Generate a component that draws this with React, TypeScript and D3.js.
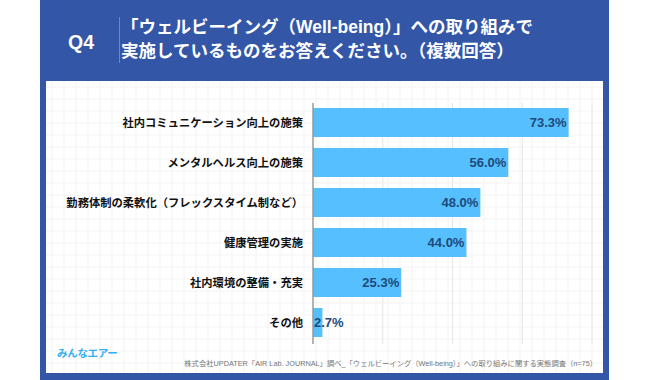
import React from "react";
import * as d3 from "d3";

const categories = [
  "社内コミュニケーション向上の施策",
  "メンタルヘルス向上の施策",
  "勤務体制の柔軟化（フレックスタイム制など）",
  "健康管理の実施",
  "社内環境の整備・充実",
  "その他",
];
const values = [73.3, 56.0, 48.0, 44.0, 25.3, 2.7];
const gridTicks = [20, 40, 60, 80];
const titleLines = [
  "「ウェルビーイング（Well-being）」への取り組みで",
  "実施しているものをお答えください。（複数回答）",
];
const questionLabel = "Q4";
const sourceText =
  "株式会社UPDATER「AIR Lab. JOURNAL」調べ_「ウェルビーイング（Well-being）」への取り組みに関する実態調査（n=75）";
const logoText = "みんなエアー";

const W = 650;
const H = 380;
const JP = "'Noto Sans CJK JP', sans-serif";
const LAT = "'Liberation Sans', 'Noto Sans CJK JP', sans-serif";

export default function App() {
  const x = d3.scaleLinear().domain([0, 80]).range([313, 592]);
  const y = d3
    .scaleBand<string>()
    .domain(categories)
    .range([102.5, 342.5])
    .paddingInner(0.275)
    .paddingOuter(0.1375);

  const box = { x0: 46, x1: 603, y0: 81, y1: 373 };
  const bgV = d3.range(box.x0 + 6, box.x1, 12);
  const bgH = d3.range(box.y0 + 6, box.y1, 12);

  return (
    <svg
      width={W}
      height={H}
      style={{ position: "absolute", left: 0, top: 0, background: "#fff" }}
    >
      <rect x={40} y={0} width={569} height={380} fill="#3356a7" />
      <rect x={box.x0} y={box.y0} width={box.x1 - box.x0} height={box.y1 - box.y0} fill="#fff" />
      {bgV.map((v) => (
        <line key={"bv" + v} x1={v} x2={v} y1={box.y0} y2={box.y1} stroke="#f3f3f3" strokeWidth={1} />
      ))}
      {bgH.map((v) => (
        <line key={"bh" + v} x1={box.x0} x2={box.x1} y1={v} y2={v} stroke="#f3f3f3" strokeWidth={1} />
      ))}

      {/* header */}
      <text x={81} y={49} fill="#fff" fontFamily={LAT} fontWeight="bold" fontSize={19.5} textAnchor="middle">
        {questionLabel}
      </text>
      <line x1={119.5} x2={119.5} y1={17} y2={63} stroke="#7088c2" strokeWidth={1} />
      {titleLines.map((t, i) => (
        <text key={t} x={121} y={33 + i * 23.5} fill="#fff" fontFamily={LAT} fontWeight="bold" fontSize={17.5}>
          {t}
        </text>
      ))}

      {/* grid */}
      {gridTicks.map((t) => (
        <line key={t} x1={x(t)} x2={x(t)} y1={103} y2={344} stroke="#e6e6e6" strokeWidth={1} />
      ))}

      {/* bars */}
      {categories.map((c, i) => {
        const v = values[i];
        const yy = y(c)!;
        const bw = x(v) - x(0);
        const label = v.toFixed(1) + "%";
        const inside = bw > 45;
        return (
          <g key={c}>
            <rect x={x(0)} y={yy} width={bw} height={y.bandwidth()} fill="#55c0fd" />
            <text
              x={inside ? x(v) - 2 : x(0) + 1}
              y={yy + y.bandwidth() / 2 + 4.5}
              textAnchor={inside ? "end" : "start"}
              fill="#1e4a7c"
              fontFamily={LAT}
              fontWeight="bold"
              fontSize={13}
            >
              {label}
            </text>
            <text
              x={303}
              y={yy + y.bandwidth() / 2 + 4}
              textAnchor="end"
              fill="#111"
              fontFamily={JP}
              fontWeight="bold"
              fontSize={11.3}
            >
              {c}
            </text>
          </g>
        );
      })}
      <line x1={x(0)} x2={x(0)} y1={103} y2={344} stroke="#999" strokeWidth={1.5} />

      {/* footer */}
      <text x={57} y={357} fill="#2fb0f0" fontFamily={JP} fontWeight="bold" fontSize={10.5} letterSpacing={-0.3}>
        {logoText}
      </text>
      <text x={597} y={366} textAnchor="end" fill="#777" fontFamily={LAT} fontSize={7.3}>
        {sourceText}
      </text>
    </svg>
  );
}
